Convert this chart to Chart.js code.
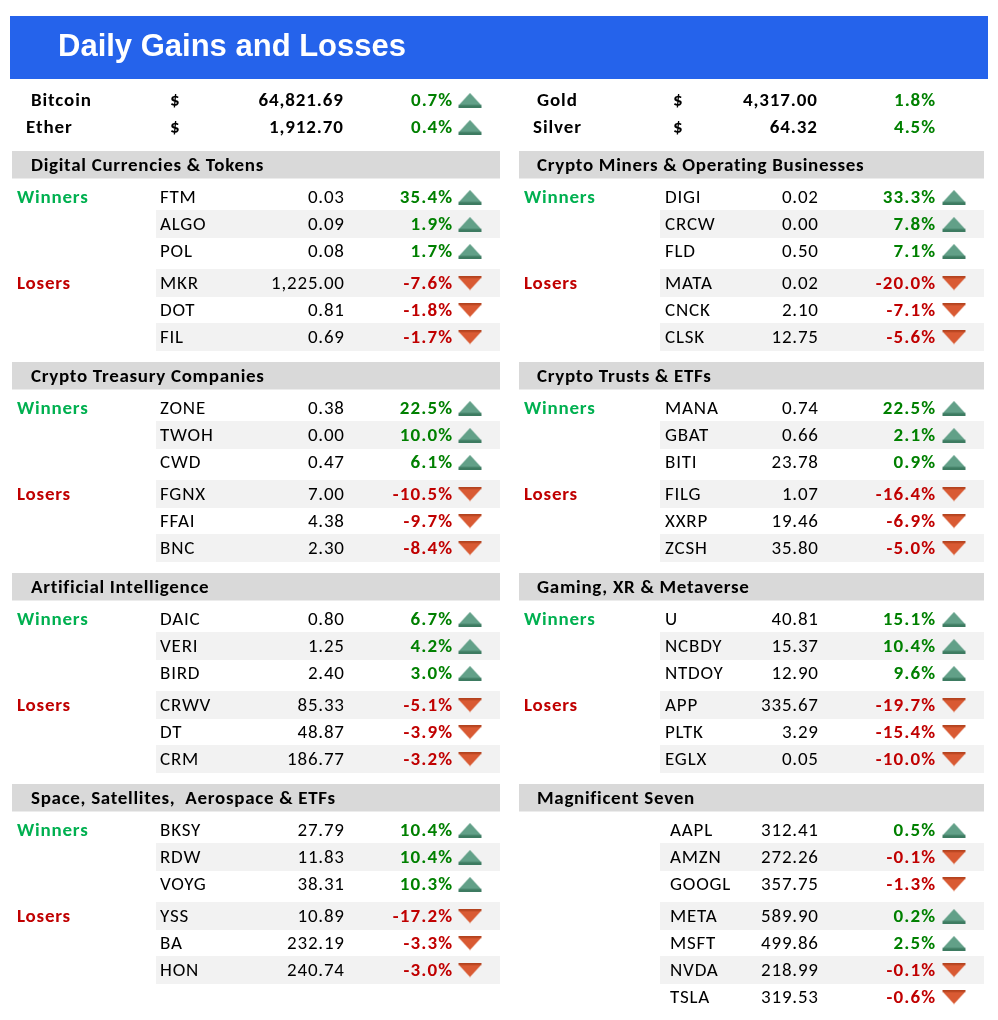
<!DOCTYPE html>
<html lang="en">
<head>
  <meta charset="UTF-8">
  <title>Daily Gains and Losses</title>
  <script src="https://cdn.jsdelivr.net/npm/chart.js"></script>
  <style>
    html, body { margin: 0; padding: 0; background: #ffffff; overflow: hidden; }
    #board { display: block; }
  </style>
</head>
<body>
  <canvas id="board" width="998" height="1020"></canvas>

  <script>
    // Headline quotes
    var topNames   = ['Bitcoin', 'Ether', 'Gold', 'Silver'];
    var topPrices  = [64821.69, 1912.70, 4317.00, 64.32];
    var topChanges = [0.7, 0.4, 1.8, 4.5];

    // Panel titles (left column top to bottom, then right column)
    var panelTitles = [
      'Digital Currencies & Tokens', 'Crypto Treasury Companies',
      'Artificial Intelligence', 'Space, Satellites,  Aerospace & ETFs',
      'Crypto Miners & Operating Businesses', 'Crypto Trusts & ETFs',
      'Gaming, XR & Metaverse', 'Magnificent Seven'
    ];

    var digitalTickers = ['FTM', 'ALGO', 'POL', 'MKR', 'DOT', 'FIL'];
    var digitalPrices  = [0.03, 0.09, 0.08, 1225.00, 0.81, 0.69];
    var digitalChanges = [35.4, 1.9, 1.7, -7.6, -1.8, -1.7];

    var treasuryTickers = ['ZONE', 'TWOH', 'CWD', 'FGNX', 'FFAI', 'BNC'];
    var treasuryPrices  = [0.38, 0.00, 0.47, 7.00, 4.38, 2.30];
    var treasuryChanges = [22.5, 10.0, 6.1, -10.5, -9.7, -8.4];

    var aiTickers = ['DAIC', 'VERI', 'BIRD', 'CRWV', 'DT', 'CRM'];
    var aiPrices  = [0.80, 1.25, 2.40, 85.33, 48.87, 186.77];
    var aiChanges = [6.7, 4.2, 3.0, -5.1, -3.9, -3.2];

    var spaceTickers = ['BKSY', 'RDW', 'VOYG', 'YSS', 'BA', 'HON'];
    var spacePrices  = [27.79, 11.83, 38.31, 10.89, 232.19, 240.74];
    var spaceChanges = [10.4, 10.4, 10.3, -17.2, -3.3, -3.0];

    var minersTickers = ['DIGI', 'CRCW', 'FLD', 'MATA', 'CNCK', 'CLSK'];
    var minersPrices  = [0.02, 0.00, 0.50, 0.02, 2.10, 12.75];
    var minersChanges = [33.3, 7.8, 7.1, -20.0, -7.1, -5.6];

    var trustsTickers = ['MANA', 'GBAT', 'BITI', 'FILG', 'XXRP', 'ZCSH'];
    var trustsPrices  = [0.74, 0.66, 23.78, 1.07, 19.46, 35.80];
    var trustsChanges = [22.5, 2.1, 0.9, -16.4, -6.9, -5.0];

    var gamingTickers = ['U', 'NCBDY', 'NTDOY', 'APP', 'PLTK', 'EGLX'];
    var gamingPrices  = [40.81, 15.37, 12.90, 335.67, 3.29, 0.05];
    var gamingChanges = [15.1, 10.4, 9.6, -19.7, -15.4, -10.0];

    var magTickers = ['AAPL', 'AMZN', 'GOOGL', 'META', 'MSFT', 'NVDA', 'TSLA'];
    var magPrices  = [312.41, 272.26, 357.75, 589.90, 499.86, 218.99, 319.53];
    var magChanges = [0.5, -0.1, -1.3, 0.2, 2.5, -0.1, -0.6];

    var panels = [
      { title: panelTitles[0], tickers: digitalTickers,  prices: digitalPrices,  changes: digitalChanges,  col: 0, slot: 0, groups: true },
      { title: panelTitles[1], tickers: treasuryTickers, prices: treasuryPrices, changes: treasuryChanges, col: 0, slot: 1, groups: true },
      { title: panelTitles[2], tickers: aiTickers,       prices: aiPrices,       changes: aiChanges,       col: 0, slot: 2, groups: true },
      { title: panelTitles[3], tickers: spaceTickers,    prices: spacePrices,    changes: spaceChanges,    col: 0, slot: 3, groups: true },
      { title: panelTitles[4], tickers: minersTickers,   prices: minersPrices,   changes: minersChanges,   col: 1, slot: 0, groups: true },
      { title: panelTitles[5], tickers: trustsTickers,   prices: trustsPrices,   changes: trustsChanges,   col: 1, slot: 1, groups: true },
      { title: panelTitles[6], tickers: gamingTickers,   prices: gamingPrices,   changes: gamingChanges,   col: 1, slot: 2, groups: true },
      { title: panelTitles[7], tickers: magTickers,      prices: magPrices,      changes: magChanges,      col: 1, slot: 3, groups: false }
    ];

    // Layout (pixel units on the hidden scales)
    var layout = {
      cols: [
        { header: [12, 500], title: 31, label: 17, band: [156, 500], ticker: 160, price: 344, pct: 452, arrow: 470 },
        { header: [519, 984], title: 537, label: 524, band: [660, 984], ticker: 665, price: 818, pct: 935, arrow: 954 }
      ],
      panelTop: [151, 362, 573, 784],
      headerH: 27.5,
      firstRow: 46,
      rowPitch: 27,
      groupGap: 5,
      bandH: 28,
      topRows: [100, 127],
      topCols: [
        { labelX: [31, 26], dollar: 170, price: 343, pct: 452, arrow: 470 },
        { labelX: [537, 533], dollar: 673, price: 817, pct: 935, arrow: null }
      ]
    };

    var FONT = 'Carlito, Lato, "Open Sans", sans-serif';
    var GREEN_TXT = '#008000', RED_TXT = '#C00000';

    function rowY(p, i) {
      return layout.panelTop[p.slot] + layout.firstRow + i * layout.rowPitch + (i >= 3 ? layout.groupGap : 0);
    }
    function fmtPrice(v) {
      return v.toLocaleString('en-US', { minimumFractionDigits: 2, maximumFractionDigits: 2 });
    }
    function fmtPct(v) {
      return v.toFixed(1) + '%';
    }

    // Arrow icons used as point styles
    function makeArrow(up) {
      var c = document.createElement('canvas');
      c.width = 24; c.height = 15;
      var g = c.getContext('2d');
      if (up) {
        g.fillStyle = '#62A088';
        g.beginPath(); g.moveTo(12, 0.5); g.lineTo(23.5, 13); g.lineTo(0.5, 13); g.closePath(); g.fill();
        g.fillStyle = '#3D7B61';
        g.fillRect(0.5, 12.5, 23, 2.5);
      } else {
        g.fillStyle = '#D95A33';
        g.beginPath(); g.moveTo(0.5, 2); g.lineTo(23.5, 2); g.lineTo(12, 14.5); g.closePath(); g.fill();
        g.fillStyle = '#B4431F';
        g.fillRect(0.5, 0, 23, 2.5);
      }
      return c;
    }
    var upArrow = makeArrow(true), downArrow = makeArrow(false);

    // Arrow points
    var upPoints = [], downPoints = [];
    topChanges.forEach(function (v, i) {
      var tc = layout.topCols[Math.floor(i / 2)];
      if (tc.arrow === null) return;
      (v >= 0 ? upPoints : downPoints).push({ x: tc.arrow, y: layout.topRows[i % 2] });
    });
    panels.forEach(function (p) {
      var c = layout.cols[p.col];
      p.changes.forEach(function (v, i) {
        (v >= 0 ? upPoints : downPoints).push({ x: c.arrow, y: rowY(p, i) });
      });
    });

    function px(chart, x) { return chart.scales.x.getPixelForValue(x); }
    function py(chart, y) { return chart.scales.y.getPixelForValue(y); }

    // right-aligned text with letter spacing (trailing spacing removed)
    function rightText(ctx, s, x, y, sp) {
      ctx.fillText(s, x + sp, y);
    }

    var tablePlugin = {
      id: 'tablePlugin',
      beforeDatasetsDraw: function (chart) {
        var ctx = chart.ctx;
        ctx.save();
        // title bar
        ctx.fillStyle = '#2563EB';
        ctx.fillRect(px(chart, 10), py(chart, 16), px(chart, 988) - px(chart, 10), py(chart, 79) - py(chart, 16));
        panels.forEach(function (p) {
          var c = layout.cols[p.col];
          var top = layout.panelTop[p.slot];
          ctx.fillStyle = '#D9D9D9';
          ctx.fillRect(px(chart, c.header[0]), py(chart, top), px(chart, c.header[1]) - px(chart, c.header[0]), layout.headerH);
          ctx.fillStyle = '#F2F2F2';
          p.tickers.forEach(function (t, i) {
            if (i % 2 === 1) {
              var y = rowY(p, i);
              ctx.fillRect(px(chart, c.band[0]), py(chart, y - layout.bandH / 2), px(chart, c.band[1]) - px(chart, c.band[0]), layout.bandH);
            }
          });
        });
        ctx.restore();
      },
      afterDatasetsDraw: function (chart) {
        var ctx = chart.ctx;
        ctx.save();
        ctx.textBaseline = 'middle';

        // title
        ctx.fillStyle = '#ffffff';
        ctx.font = 'bold 31px "Liberation Sans", Arial, sans-serif';
        ctx.letterSpacing = '0px';
        ctx.textAlign = 'left';
        ctx.fillText('Daily Gains and Losses', px(chart, 58), py(chart, 47));

        // headline quotes
        ctx.letterSpacing = '0.9px';
        topNames.forEach(function (name, i) {
          var tc = layout.topCols[Math.floor(i / 2)];
          var y = py(chart, layout.topRows[i % 2] + 1);
          ctx.font = 'bold 19px ' + FONT;
          ctx.fillStyle = '#000000';
          ctx.textAlign = 'left';
          ctx.fillText(name, px(chart, tc.labelX[i % 2]), y);
          ctx.fillText('$', px(chart, tc.dollar), y);
          ctx.textAlign = 'right';
          rightText(ctx, fmtPrice(topPrices[i]), px(chart, tc.price), y, 0.9);
          ctx.fillStyle = topChanges[i] >= 0 ? GREEN_TXT : RED_TXT;
          rightText(ctx, fmtPct(topChanges[i]), px(chart, tc.pct), y, 0.9);
        });

        // panels
        panels.forEach(function (p) {
          var c = layout.cols[p.col];
          var top = layout.panelTop[p.slot];
          ctx.textAlign = 'left';
          ctx.fillStyle = '#000000';
          ctx.font = 'bold 19px ' + FONT;
          ctx.letterSpacing = '0.7px';
          ctx.fillText(p.title, px(chart, c.title), py(chart, top + 15));

          if (p.groups) {
            ctx.letterSpacing = '0.8px';
            ctx.fillStyle = '#00B050';
            ctx.fillText('Winners', px(chart, c.label), py(chart, rowY(p, 0) + 1));
            ctx.fillStyle = '#C00000';
            ctx.fillText('Losers', px(chart, c.label), py(chart, rowY(p, 3) + 1));
          }

          p.tickers.forEach(function (t, i) {
            var y = py(chart, rowY(p, i) + 1);
            ctx.font = '19px ' + FONT;
            ctx.letterSpacing = '0.8px';
            ctx.fillStyle = '#000000';
            ctx.textAlign = 'left';
            ctx.fillText(t, px(chart, p.groups ? c.ticker : c.ticker + 5), y);
            ctx.textAlign = 'right';
            rightText(ctx, fmtPrice(p.prices[i]), px(chart, c.price), y, 0.8);
            ctx.font = 'bold 19px ' + FONT;
            ctx.letterSpacing = '1.1px';
            ctx.fillStyle = p.changes[i] >= 0 ? GREEN_TXT : RED_TXT;
            rightText(ctx, fmtPct(p.changes[i]), px(chart, c.pct), y, 1.1);
          });
        });
        ctx.restore();
      }
    };

    new Chart(document.getElementById('board'), {
      type: 'scatter',
      data: {
        datasets: [
          { label: 'Up', data: upPoints, pointStyle: upArrow, pointRadius: 8 },
          { label: 'Down', data: downPoints, pointStyle: downArrow, pointRadius: 8 }
        ]
      },
      options: {
        responsive: false,
        animation: false,
        events: [],
        layout: { padding: 0, autoPadding: false },
        plugins: { legend: { display: false }, tooltip: { enabled: false } },
        scales: {
          x: { type: 'linear', min: 0, max: 998, display: false },
          y: { type: 'linear', min: 0, max: 1020, reverse: true, display: false }
        }
      },
      plugins: [tablePlugin]
    });
  </script>
</body>
</html>
